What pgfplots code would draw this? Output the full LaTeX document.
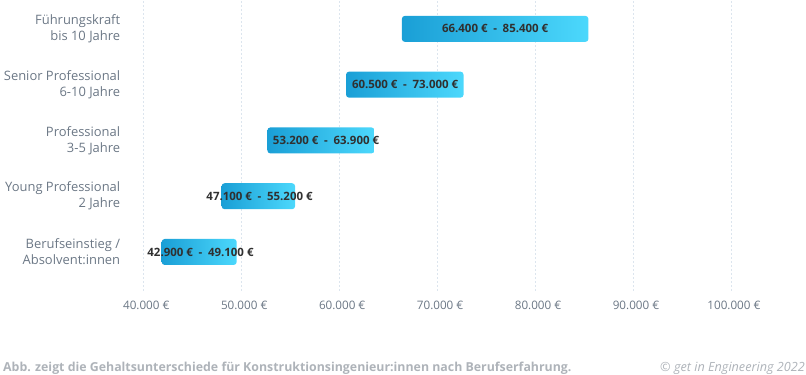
\documentclass[border=0pt]{standalone}
\usepackage{pgfplots}
\pgfplotsset{compat=1.18}
\usepackage{pgfplotstable}
\usepackage{fontspec}
\setmainfont{Open Sans}
\definecolor{barL}{HTML}{1A9FD6}
\definecolor{barR}{HTML}{4CD8FC}
\definecolor{lab}{HTML}{6B7785}
\definecolor{txt}{HTML}{303030}
\definecolor{gridc}{HTML}{DCE5EE}
\definecolor{foot}{HTML}{AEB3B9}

\pgfplotstableread[col sep=comma]{
mid,y,label
45840,0,42.900 €\enspace-\enspace49.100 €
51870,1,47.100 €\enspace-\enspace55.200 €
58660,2,53.200 €\enspace-\enspace63.900 €
66730,3,60.500 €\enspace-\enspace73.000 €
75925,4,66.400 €\enspace-\enspace85.400 €
}\labels

\begin{document}
\begin{tikzpicture}
\useasboundingbox (0,0) rectangle (806bp,375bp);
\begin{axis}[
  at={(123.7bp,84bp)}, anchor=south west,
  scale only axis, width=656.2bp, height=290bp,
  xmin=38000, xmax=105000, ymin=-0.7, ymax=4.5,
  scaled x ticks=false,
  axis line style={draw=none},
  major tick length=0pt,
  xtick={40000,50000,60000,70000,80000,90000,100000},
  xticklabels={40.000 €,50.000 €,60.000 €,70.000 €,80.000 €,90.000 €,100.000 €},
  ytick={0,1,2,3,4},
  yticklabels={{Berufseinstieg /\\Absolvent:innen},{Young Professional\\2 Jahre},{Professional\\3-5 Jahre},{Senior Professional\\6-10 Jahre},{Führungskraft\\bis 10 Jahre}},
  xticklabel style={font=\fontsize{11.7}{13}\selectfont, text=lab, yshift=-7bp, xshift=3bp},
  yticklabel style={font=\fontsize{13}{16}\selectfont, text=lab, align=right},
  xmajorgrids,
  grid style={draw=gridc, dash pattern=on 2bp off 2bp, line width=0.7bp},
  clip=false,
]
\pgfplotsset{bar/.style={draw=none, left color=barL, right color=barR, rounded corners=3bp}}
\addplot[bar] coordinates {(41880,-0.233) (49540,-0.233) (49540,0.233) (41880,0.233)} -- cycle;
\addplot[bar] coordinates {(48000,0.767) (55500,0.767) (55500,1.233) (48000,1.233)} -- cycle;
\addplot[bar] coordinates {(52670,1.767) (63600,1.767) (63600,2.233) (52670,2.233)} -- cycle;
\addplot[bar] coordinates {(60700,2.767) (72700,2.767) (72700,3.233) (60700,3.233)} -- cycle;
\addplot[bar] coordinates {(66400,3.767) (85450,3.767) (85450,4.233) (66400,4.233)} -- cycle;
\addplot[draw=none, mark=none, nodes near coords, point meta=explicit symbolic,
  nodes near coords style={anchor=center, font=\bfseries\fontsize{11.5}{13}\selectfont, text=txt}]
  table[x=mid, y=y, meta=label] {\labels};
\end{axis}
\node[anchor=base west, font=\bfseries\fontsize{12.4}{14}\selectfont, text=foot, inner sep=0pt] at (3bp,4bp)
  {Abb. zeigt die Gehaltsunterschiede für Konstruktionsingenieur:innen nach Berufserfahrung.};
\node[anchor=base east, font=\itshape\fontsize{12.7}{14}\selectfont, text=foot, inner sep=0pt] at (805bp,4bp)
  {© get in Engineering 2022};
\end{tikzpicture}
\end{document}
